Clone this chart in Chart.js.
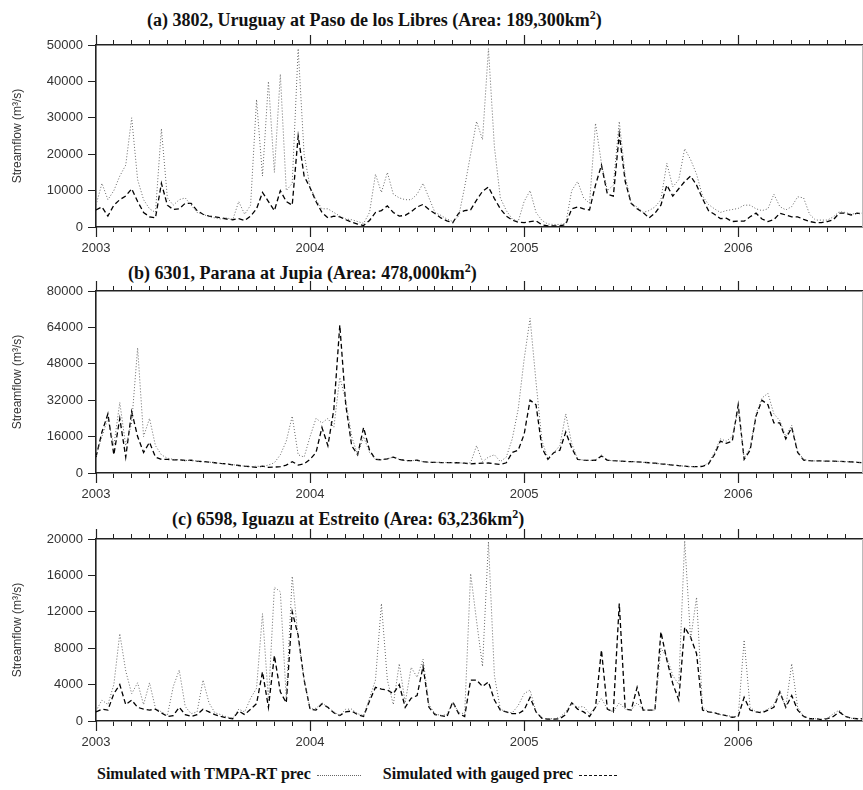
<!DOCTYPE html>
<html>
<head>
<meta charset="utf-8">
<title>Streamflow simulations</title>
<script src="https://cdn.jsdelivr.net/npm/chart.js@4.4.1/dist/chart.umd.min.js"></script>
<style>
  body { margin: 0; background: #fff; }
  #page { position: relative; width: 863px; height: 790px; overflow: hidden; background: #fff; }
  .panel { position: absolute; left: 0; width: 863px; height: 230px; }
  .title { position: absolute; font: bold 18px "Liberation Serif", "Times New Roman", serif; line-height: 20px; color: #111; white-space: nowrap; }
  .title sup { font-size: 12px; line-height: 0; }
  #legend { position: absolute; left: 97px; top: 764px; font: bold 16px "Liberation Serif", "Times New Roman", serif; line-height: 20px; color: #111; white-space: nowrap; }
  #legend .sample { display: inline-block; vertical-align: middle; margin: 0 22px 0 6px; }
  #legend .dotted { width: 44px; border-top: 1px dotted #666; }
  #legend .dashed { width: 38px; border-top: 1.5px dashed #111; margin-right: 0; }
</style>
</head>
<body>
<div id="page">
  <div class="title" style="left:147px; top:10px;">(a) 3802, Uruguay at Paso de los Libres (Area: 189,300km<sup>2</sup>)</div>
  <div class="panel" style="top:30px;"><canvas id="chartA"></canvas></div>

  <div class="title" style="left:128px; top:263px;">(b) 6301, Parana at Jupia (Area: 478,000km<sup>2</sup>)</div>
  <div class="panel" style="top:276px;"><canvas id="chartB"></canvas></div>

  <div class="title" style="left:172px; top:509px;">(c) 6598, Iguazu at Estreito (Area: 63,236km<sup>2</sup>)</div>
  <div class="panel" style="top:524px;"><canvas id="chartC"></canvas></div>

  <div id="legend">Simulated with TMPA-RT prec<span class="sample dotted"></span>Simulated with gauged prec<span class="sample dashed"></span></div>
</div>

<script>
// time axis: values every 1/36 year (about 10 days) starting Jan 2003
const startYear = 2003;
const stepsPerYear = 36;
const endYear = 2006.583;
const yearLabels = ['2003', '2004', '2005', '2006'];

// (a) Uruguay at Paso de los Libres, m3/s
const uruguayTmpa = [
  6000, 12000, 7500, 10000, 14000, 17000, 30000, 13000, 7500, 5000, 4000, 27000, 8000, 6000, 7500, 8000, 6000, 4000,
  3500, 2800, 2500, 2200, 2500, 2000, 7000, 3500, 6000, 35000, 14000, 40000, 15000, 42000, 10000, 12000, 49000, 20000,
  11000, 7500, 5000, 5000, 4000, 3000, 2200, 2000, 1500, 1000, 4000, 14500, 9500, 15000, 9000, 8000, 7500, 7500,
  9000, 12000, 8000, 4000, 3200, 2200, 1500, 3000, 11000, 20000, 29000, 24000, 49000, 22000, 8000, 4500, 2200, 1500,
  7000, 10000, 4000, 1800, 800, 700, 700, 1000, 10000, 12500, 8000, 6500, 28500, 17500, 10000, 11500, 29000, 14000,
  6500, 5500, 4000, 4500, 5500, 7500, 17500, 11000, 13000, 21500, 18500, 14500, 8500, 6200, 5000, 4000, 4500, 4800,
  5100, 6000, 6000, 5000, 4500, 5000, 9000, 5600, 4700, 5600, 8300, 8000, 3500, 1900, 1900, 1900, 2800, 4200,
  4000, 3500, 3800, 3800
];
const uruguayGauged = [
  4700, 5500, 3000, 6000, 7500, 8500, 10500, 7000, 4000, 2800, 2500, 12000, 6000, 4800, 5000, 6500, 6500, 4500,
  3500, 3000, 2800, 2500, 2200, 2000, 2300, 1800, 3000, 5000, 9500, 7000, 4500, 10000, 7000, 6000, 25000, 14000,
  10800, 7000, 4000, 2500, 3000, 2800, 2000, 1300, 800, 400, 1800, 4000, 4500, 5800, 4000, 3000, 3200, 4200,
  5500, 6200, 4800, 3700, 2500, 1700, 1200, 3800, 4500, 4700, 7400, 9800, 11000, 7800, 5000, 3000, 1900, 1300,
  1200, 1500, 1700, 600, 300, 300, 300, 700, 5000, 5500, 5000, 4700, 11500, 17000, 9000, 8500, 25500, 12500,
  6500, 5000, 4000, 2500, 3800, 6000, 11500, 8500, 10500, 12500, 14000, 11500, 7800, 4500, 3500, 2300, 2400, 1500,
  1600, 1600, 2800, 3800, 2200, 1500, 2000, 3800, 3300, 2800, 2800, 2100, 1500, 1200, 1200, 1500, 2000, 3800,
  3800, 3300, 3800, 3500
];

// (b) Parana at Jupia, m3/s
const paranaTmpa = [
  7500, 16000, 24000, 12000, 31000, 12000, 22000, 55000, 16000, 24000, 12000, 8000, 6500, 6000, 5800, 5500, 5600, 5200,
  5000, 4800, 4500, 4200, 4000, 3700, 3300, 3000, 2800, 3000, 2800, 3500, 4500, 8000, 14000, 25000, 8000, 7000,
  16000, 24000, 22000, 24000, 20000, 42000, 32000, 16000, 8000, 16000, 9000, 6000, 5800, 6200, 7000, 6000, 5500, 5400,
  5600, 5000, 4700, 4700, 4600, 4600, 4500, 4500, 4300, 4500, 12000, 5000, 7000, 8000, 5000, 7000, 15000, 28000,
  50000, 68000, 40000, 14000, 6500, 9000, 12000, 26000, 13000, 6000, 5700, 5500, 5600, 8000, 5600, 5400, 5300, 5100,
  5000, 4900, 4700, 4500, 4300, 4000, 3800, 3500, 3200, 3000, 2800, 2800, 2900, 4500, 9000, 15000, 14000, 16000,
  28000, 6500, 11000, 26000, 33000, 35000, 26000, 23000, 16000, 21000, 9500, 6000, 5400, 5300, 5300, 5200, 5200, 5100,
  5000, 4900, 4700, 4500
];
const paranaGauged = [
  7000, 18000, 26000, 8000, 24000, 7000, 27000, 16000, 9000, 13500, 7000, 6000, 6000, 5800, 5800, 5500, 5600, 5200,
  5000, 4800, 4500, 4200, 4000, 3600, 3300, 3000, 2800, 2500, 3000, 2500, 2600, 2800, 3500, 5000, 3500, 4000,
  6000, 9000, 20000, 12000, 28000, 65000, 30000, 12000, 8000, 20000, 10000, 6000, 5800, 6200, 7000, 6000, 5500, 5400,
  5600, 5000, 4700, 4700, 4600, 4600, 4500, 4500, 4300, 4000, 4200, 4300, 4400, 4000, 3800, 4500, 9000, 10000,
  17000, 32000, 30000, 11000, 6000, 9000, 10000, 18000, 11000, 6000, 5700, 5500, 5600, 7500, 5600, 5400, 5300, 5100,
  5000, 4900, 4700, 4500, 4300, 4000, 3800, 3500, 3200, 3000, 2800, 2800, 2900, 4000, 8000, 14000, 13000, 14000,
  30000, 6000, 10000, 25000, 32000, 30000, 22000, 22000, 15000, 20000, 9000, 5700, 5400, 5300, 5300, 5200, 5200, 5100,
  5000, 4900, 4700, 4500
];

// (c) Iguazu at Estreito, m3/s
const iguazuTmpa = [
  1100, 2300, 1800, 4000, 9600, 5500, 3000, 4200, 1800, 4200, 1400, 1000, 600, 3800, 5600, 1600, 800, 1000,
  4500, 2000, 900, 700, 450, 300, 1300, 1000, 2500, 3600, 11800, 2300, 14700, 14200, 2500, 15900, 9000, 4600,
  1300, 1400, 2000, 1500, 1000, 600, 1300, 1300, 800, 600, 2500, 4500, 12900, 4500, 1800, 6300, 2000, 5900,
  4800, 6800, 1800, 800, 600, 700, 2100, 900, 800, 16200, 11000, 6000, 19700, 5000, 1300, 1000, 900, 1700,
  3000, 3400, 1000, 300, 250, 250, 400, 1000, 2000, 1500, 1600, 800, 1500, 2500, 1300, 1000, 2000, 1300,
  1200, 2000, 1200, 1200, 1200, 8000, 7000, 5000, 4000, 19800, 9000, 13600, 1500, 1000, 900, 700, 600, 500,
  500, 8900, 1500, 1000, 1000, 1300, 1800, 3300, 1500, 6300, 1500, 500, 300, 250, 200, 300, 800, 1200,
  500, 300, 250, 250
];
const iguazuGauged = [
  1000, 1300, 1200, 3000, 4000, 1800, 2300, 1500, 1300, 1200, 1300, 900, 500, 600, 1500, 700, 500, 700,
  1300, 1000, 700, 500, 350, 250, 1100, 700, 1300, 1900, 5400, 1500, 7200, 3200, 2000, 12000, 9400, 4500,
  1300, 1200, 1900, 1500, 900, 600, 1000, 1100, 700, 500, 2200, 3700, 3500, 3400, 3000, 4000, 1500, 2500,
  2800, 6000, 1500, 700, 600, 450, 2100, 800, 500, 4500, 4500, 3800, 4300, 2300, 1200, 1000, 800, 800,
  1200, 2600, 1000, 300, 200, 200, 250, 700, 2000, 1300, 1000, 500, 1500, 7800, 1300, 1000, 12900, 1300,
  1200, 3700, 1200, 1200, 1200, 9800, 6700, 4100, 2300, 10300, 9200, 7400, 1200, 1000, 900, 700, 600, 400,
  500, 2600, 1200, 1000, 900, 1200, 1500, 3200, 1500, 2800, 1200, 500, 250, 250, 150, 250, 500, 1000,
  500, 300, 250, 250
];

// y ticks for each panel
const uruguayTicks = [0, 10000, 20000, 30000, 40000, 50000];
const paranaTicks = [0, 16000, 32000, 48000, 64000, 80000];
const iguazuTicks = [0, 4000, 8000, 12000, 16000, 20000];

const sansFont = '"Liberation Sans", Arial, Helvetica, sans-serif';

function toPoints(values) {
  return values.map((v, i) => ({ x: startYear + i / stepsPerYear, y: v }));
}

// monthly tick marks, labels only on the years
const monthTicks = [];
for (let m = 0; startYear + m / 12 <= endYear + 1e-6; m++) {
  monthTicks.push(startYear + m / 12);
}
function yearLabel(value) {
  const r = Math.round(value);
  if (Math.abs(value - r) > 1e-6) return '';
  const idx = yearLabels.indexOf(String(r));
  return idx >= 0 ? yearLabels[idx] : '';
}

// longer tick marks at each year on top and bottom axes, plus the faint right frame edge
const yearTickPlugin = {
  id: 'yearTicks',
  afterDraw(chart) {
    const ctx = chart.ctx;
    const xs = chart.scales.x;
    const area = chart.chartArea;
    ctx.save();
    ctx.strokeStyle = '#222';
    ctx.lineWidth = 1.2;
    yearLabels.forEach(y => {
      const px = Math.round(xs.getPixelForValue(Number(y))) + 0.5;
      ctx.beginPath();
      ctx.moveTo(px, area.bottom);
      ctx.lineTo(px, area.bottom + 10);
      ctx.moveTo(px, area.top);
      ctx.lineTo(px, area.top - 10);
      ctx.stroke();
    });
    ctx.strokeStyle = '#bbb';
    ctx.lineWidth = 1;
    ctx.beginPath();
    ctx.moveTo(area.right - 0.5, area.top);
    ctx.lineTo(area.right - 0.5, area.bottom);
    ctx.stroke();
    ctx.restore();
  }
};

function makePanel(canvasId, tmpa, gauged, yTicks) {
  const yMax = yTicks[yTicks.length - 1];
  const canvas = document.getElementById(canvasId);
  try {
    new Chart(canvas.getContext('2d'), {
      type: 'line',
      data: {
        datasets: [
          {
            label: 'Simulated with TMPA-RT prec',
            data: toPoints(tmpa),
            borderColor: '#666',
            borderWidth: 1,
            borderDash: [1, 2],
            pointRadius: 0,
            tension: 0,
            fill: false
          },
          {
            label: 'Simulated with gauged prec',
            data: toPoints(gauged),
            borderColor: '#000',
            borderWidth: 1.3,
            borderDash: [5, 3],
            pointRadius: 0,
            tension: 0,
            fill: false
          }
        ]
      },
      options: {
        animation: false,
        responsive: true,
        maintainAspectRatio: false,
        layout: { padding: 0 },
        plugins: {
          legend: { display: false },
          tooltip: { enabled: false }
        },
        scales: {
          x: {
            type: 'linear',
            position: 'bottom',
            min: startYear,
            max: endYear,
            afterBuildTicks: s => { s.ticks = monthTicks.map(v => ({ value: v })); },
            afterFit: s => { s.height = 33; },
            grid: { drawOnChartArea: false, drawTicks: true, tickLength: 5, color: '#222', tickWidth: 1 },
            border: { display: true, color: '#222', width: 1.6 },
            ticks: {
              autoSkip: false,
              maxRotation: 0,
              padding: 9,
              color: '#333',
              font: { family: sansFont, size: 13 },
              callback: v => yearLabel(v)
            }
          },
          x2: {
            type: 'linear',
            position: 'top',
            min: startYear,
            max: endYear,
            afterBuildTicks: s => { s.ticks = monthTicks.map(v => ({ value: v })); },
            afterFit: s => { s.height = 15; },
            grid: { drawOnChartArea: false, drawTicks: true, tickLength: 5, color: '#222', tickWidth: 1 },
            border: { display: true, color: '#222', width: 1.6 },
            ticks: { display: false }
          },
          y: {
            min: 0,
            max: yMax,
            afterBuildTicks: s => { s.ticks = yTicks.map(v => ({ value: v })); },
            afterFit: s => { s.width = 96; },
            grid: { drawOnChartArea: false, drawTicks: true, tickLength: 8, color: '#222', tickWidth: 1 },
            border: { display: true, color: '#222', width: 1.6 },
            ticks: {
              padding: 5,
              color: '#333',
              font: { family: sansFont, size: 13 },
              callback: v => String(v)
            },
            title: {
              display: true,
              text: 'Streamflow (m³/s)',
              color: '#333',
              font: { family: sansFont, size: 12 },
              padding: { top: 10, bottom: 0 }
            }
          }
        }
      },
      plugins: [yearTickPlugin]
    });
  } catch (error) {
    console.error('Error creating chart ' + canvasId + ':', error);
  }
}

makePanel('chartA', uruguayTmpa, uruguayGauged, uruguayTicks);
makePanel('chartB', paranaTmpa, paranaGauged, paranaTicks);
makePanel('chartC', iguazuTmpa, iguazuGauged, iguazuTicks);
</script>
</body>
</html>
